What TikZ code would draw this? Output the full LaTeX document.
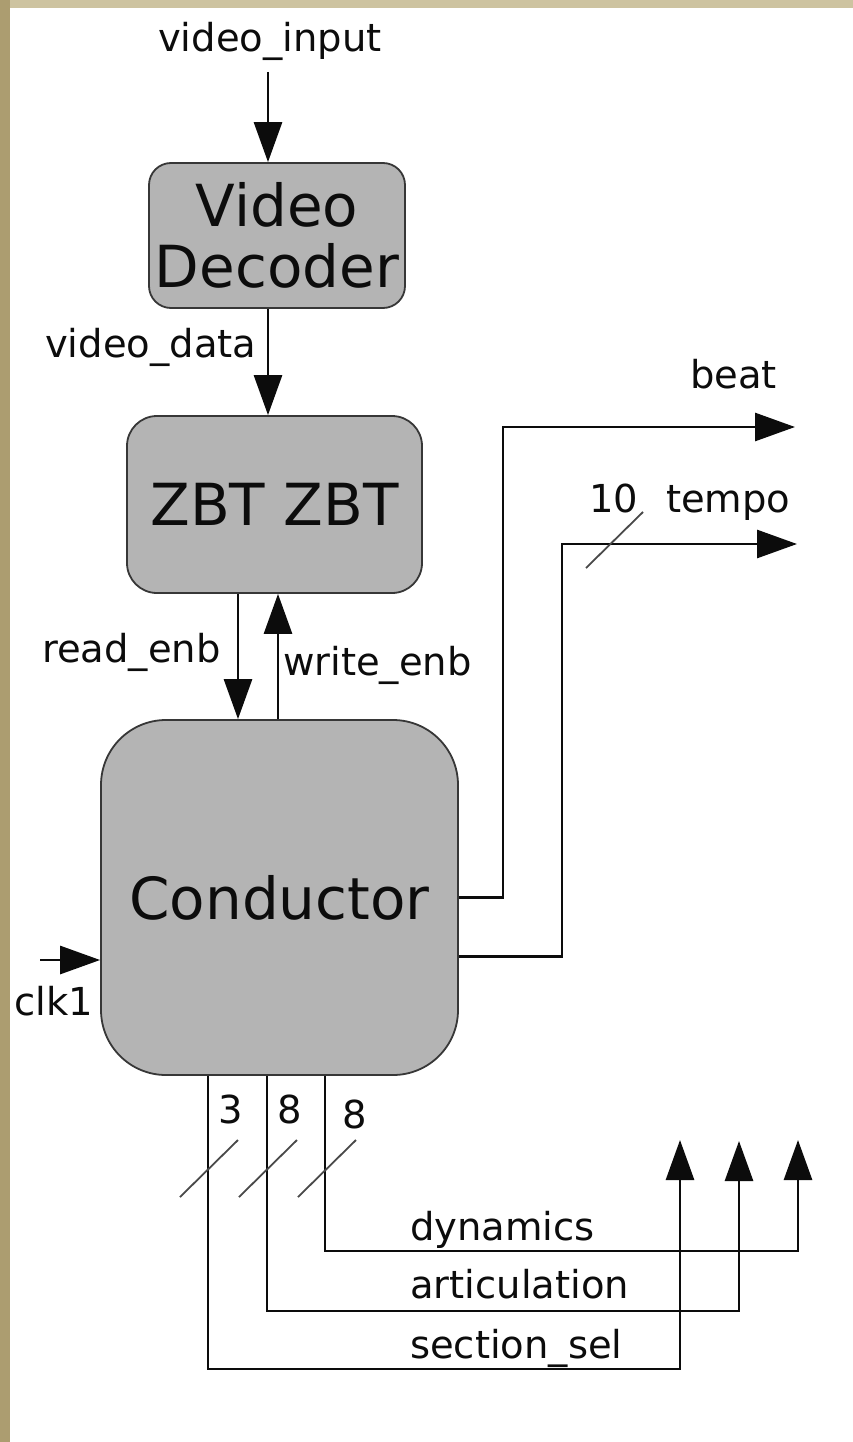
\documentclass[tikz,border=0pt]{standalone}
\usepackage{fontspec}
\setmainfont{DejaVu Sans}
\usetikzlibrary{arrows.meta,calc}
\definecolor{boxfill}{RGB}{180,180,180}
\definecolor{boxline}{RGB}{55,55,55}
\definecolor{tantop}{RGB}{205,195,160}
\definecolor{tanleft}{RGB}{172,157,112}
\definecolor{ink}{RGB}{12,12,12}
\begin{document}
\begin{tikzpicture}[x=1pt,y=-1pt,
  box/.style={draw=boxline,line width=1.8pt,fill=boxfill,align=center,text=ink,font=\fontsize{58}{61}\selectfont,inner sep=0pt},
  lbl/.style={text=ink,font=\fontsize{38.5}{40}\selectfont,inner sep=0pt,anchor=base west},
  wire/.style={draw=ink,line width=2.8pt},
  arr/.style={wire,-{Triangle[length=40pt,width=28pt]}},
  bus/.style={draw=ink!75,line width=1.8pt}]
\useasboundingbox (0,0) rectangle (853,1442);
\fill[white] (0,0) rectangle (853,1442);
\fill[tantop] (0,0) rectangle (853,8);
\fill[tanleft] (0,0) rectangle (10,1442);

% blocks
\node[box,minimum width=256pt,minimum height=145pt,rounded corners=22pt] (vd) at (277,235.5) {Video\\Decoder};
\node[box,minimum width=295pt,minimum height=177pt,rounded corners=30pt] (zbt) at (274.5,504.5) {ZBT ZBT};
\node[box,minimum width=357pt,minimum height=355pt,rounded corners=65pt] (cond) at (279.5,897.5) {Conductor};

% labels
\node[lbl] (lvin) at (158,52) {video\_input};
\node[lbl] (lvd) at (45,357) {video\_data};
\node[lbl] (lre) at (42,662) {read\_enb};
\node[lbl] (lwe) at (283,675) {write\_enb};
\node[lbl] (lbeat) at (690,388) {beat};
\node[lbl] (l10) at (589,512) {10};
\node[lbl] (ltempo) at (666,512) {tempo};
\node[lbl] (lclk) at (14,1015) {clk1};
\node[lbl] (ldyn) at (410,1240) {dynamics};
\node[lbl] (lart) at (410,1298) {articulation};
\node[lbl] (lsec) at (410,1358) {section\_sel};
\node[lbl] (l3) at (218,1123) {3};
\node[lbl] (l8a) at (277,1123) {8};
\node[lbl] (l8b) at (342,1128) {8};

% coordinates
\coordinate (vin) at (268,72);
\coordinate (re) at (238,0);
\coordinate (we) at (278,0);
\coordinate (beatend) at (795,427);
\coordinate (beatcorner) at (503,427);
\coordinate (tempoend) at (797,544);
\coordinate (tempocorner) at (562,544);
\coordinate (clkin) at (40,960);
\coordinate (b1) at (208,0);
\coordinate (b2) at (267,0);
\coordinate (b3) at (325,0);
\coordinate (dyncorner) at (798,1251);
\coordinate (dynend) at (798,1140);
\coordinate (artcorner) at (739,1311);
\coordinate (artend) at (739,1141);
\coordinate (seccorner) at (680,1369);
\coordinate (secend) at (680,1140);

% connectors
\draw[arr] (vin) -- (vin |- vd.north);
\draw[arr] (vin |- vd.south) -- (vin |- zbt.north);
\draw[arr] (re |- zbt.south) -- (re |- cond.north);
\draw[arr] (we |- cond.north) -- (we |- zbt.south);
\draw[arr] (cond.east) -| (beatcorner) -- (beatend);
\draw[arr] ([yshift=-59pt]cond.east) -| (tempocorner) -- (tempoend);
\draw[arr] (clkin) -- (clkin -| cond.west);
\draw[arr] (b3 |- cond.south) |- (dyncorner) -- (dynend);
\draw[arr] (b2 |- cond.south) |- (artcorner) -- (artend);
\draw[arr] (b1 |- cond.south) |- (seccorner) -- (secend);

% bus width slashes
\draw[bus] (586,568) -- (643,512);
\draw[bus] (180,1197) -- (238,1140);
\draw[bus] (239,1197) -- (297,1140);
\draw[bus] (298,1197) -- (356,1140);
\end{tikzpicture}
\end{document}
